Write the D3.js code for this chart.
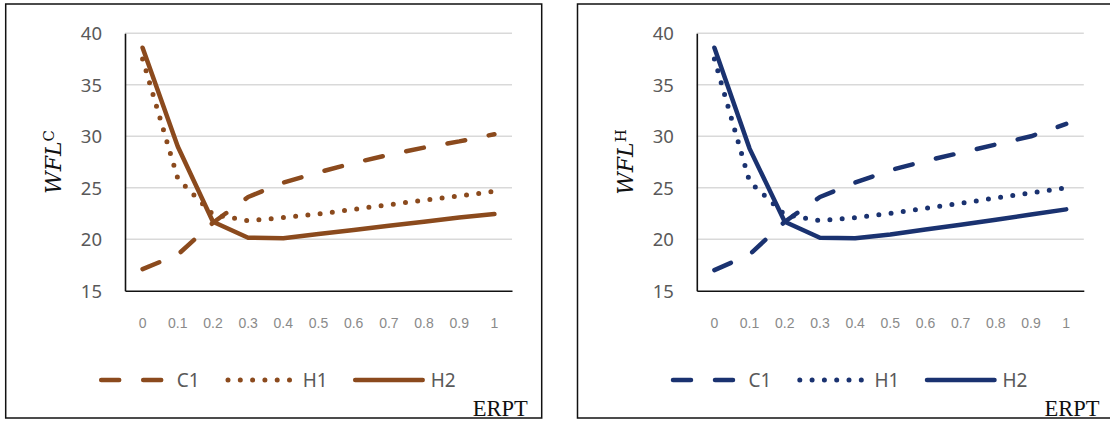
<!DOCTYPE html>
<html>
<head>
  <meta charset="utf-8">
  <title>WFL vs ERPT</title>
  <style>
    body { margin: 0; background: #fff; }
  </style>
</head>
<body>
  <svg id="main" width="1110" height="421"></svg>

  <script src="https://cdn.jsdelivr.net/npm/d3@7.0.1/dist/d3.min.js"></script>
  <script>
    // categories on the x axis
    const erpt = ['0', '0.1', '0.2', '0.3', '0.4', '0.5', '0.6', '0.7', '0.8', '0.9', '1']
    const yTicks = [15, 20, 25, 30, 35, 40]
    const seriesNames = ['C1', 'H1', 'H2']

    // left panel (WFL^C)
    const c1Left = [17.1, 18.5, 21.6, 24.1, 25.5, 26.5, 27.4, 28.2, 28.9, 29.5, 30.2]
    const h1Left = [37.5, 25.9, 22.4, 21.8, 22.1, 22.45, 22.9, 23.35, 23.8, 24.2, 24.65]
    const h2Left = [38.6, 29.0, 21.7, 20.15, 20.1, 20.5, 20.9, 21.3, 21.7, 22.1, 22.45]

    // right panel (WFL^H)
    const c1Right = [17.0, 18.5, 21.7, 24.1, 25.5, 26.7, 27.6, 28.4, 29.2, 30.0, 31.2]
    const h1Right = [37.5, 25.6, 22.4, 21.8, 22.1, 22.5, 23.0, 23.5, 24.0, 24.5, 25.0]
    const h2Right = [38.6, 28.8, 21.7, 20.15, 20.1, 20.45, 20.95, 21.4, 21.9, 22.4, 22.9]

    const svg = d3.select('#main')
    const panelW = 536, panelH = 414
    const margin = { top: 29.3, left: 119.3 }
    const innerWidth = 387
    const innerHeight = 257.4

    const xScale = d3.scaleBand().domain(erpt).range([0, innerWidth])
    const yScale = d3.scaleLinear().domain([15, 40]).range([innerHeight, 0])

    const styles = {
      C1: { dash: '18 24', width: 4.5 },
      H1: { dash: '0 12.3', width: 5 },
      H2: { dash: null, width: 4.5 }
    }

    function drawPanel(px, color, sup, values) {
      const panel = svg.append('g').attr('transform', `translate(${px}, 4)`)

      panel.append('rect')
        .attr('width', panelW).attr('height', panelH)
        .attr('fill', 'none').attr('stroke', '#111').attr('stroke-width', 1.5)

      const g = panel.append('g')
        .attr('transform', `translate(${margin.left}, ${margin.top})`)

      // gridlines
      g.selectAll('.grid').data(yTicks.slice(1))
        .join('line')
        .attr('class', 'grid')
        .attr('x1', 0).attr('x2', innerWidth)
        .attr('y1', d => yScale(d)).attr('y2', d => yScale(d))
        .attr('stroke', '#d9d9d9').attr('stroke-width', 1.5)

      const yAxis = d3.axisLeft(yScale).tickValues(yTicks).tickSize(0).tickPadding(23)
      const yg = g.append('g').call(yAxis)
        .attr('font-family', 'Noto Sans').attr('font-size', 18.5)
      yg.select('.domain').attr('stroke', '#111').attr('stroke-width', 1.6)
      yg.selectAll('.tick text')
        .attr('fill', '#595959').attr('dy', '0.36em')

      const xAxis = d3.axisBottom(xScale).tickSize(0).tickPadding(27)
      const xg = g.append('g').call(xAxis)
        .attr('transform', `translate(0, ${innerHeight})`)
        .attr('font-family', 'Liberation Sans').attr('font-size', 14)
      xg.select('.domain').attr('stroke', '#111').attr('stroke-width', 1.6)
      xg.selectAll('.tick text').attr('fill', '#8a8a8a')

      const line = d3.line()
        .x((d, i) => xScale(erpt[i]) + xScale.bandwidth() / 2)
        .y(d => yScale(d))

      seriesNames.forEach((name, k) => {
        const s = styles[name]
        g.append('path')
          .datum(values[k])
          .attr('d', line)
          .attr('fill', 'none')
          .attr('stroke', color)
          .attr('stroke-width', s.width)
          .attr('stroke-linecap', 'round')
          .attr('stroke-linejoin', 'round')
          .attr('stroke-dasharray', s.dash)
      })

      // y axis title
      const title = panel.append('text')
        .attr('transform', `translate(55, 158) rotate(-90)`)
        .attr('text-anchor', 'middle')
        .attr('font-family', 'DejaVu Serif')
        .attr('fill', '#111')
      title.append('tspan').text('WFL')
        .attr('font-style', 'italic').attr('font-size', 22)
      title.append('tspan').text(sup)
        .attr('font-size', 15).attr('dy', -7)

      // legend
      const legend = [
        { name: 'C1', x1: 95.5, x2: 158.5, tx: 171 },
        { name: 'H1', x1: 222.3, x2: 284, tx: 297 },
        { name: 'H2', x1: 349.5, x2: 417, tx: 425 }
      ]
      legend.forEach(d => {
        const s = styles[d.name]
        panel.append('line')
          .attr('x1', d.x1).attr('x2', d.x2).attr('y1', 376).attr('y2', 376)
          .attr('stroke', color).attr('stroke-width', s.width)
          .attr('stroke-linecap', 'round')
          .attr('stroke-dasharray', s.dash)
        panel.append('text').text(d.name)
          .attr('x', d.tx).attr('y', 376).attr('dy', '0.36em')
          .attr('font-family', 'Noto Sans').attr('font-size', 19)
          .attr('fill', '#595959')
      })

      panel.append('text').text('ERPT')
        .attr('x', 467).attr('y', 412)
        .attr('font-family', 'Liberation Serif').attr('font-size', 22.5)
        .attr('fill', '#111')
    }

    drawPanel(5.7, '#8B4A1D', 'C', [c1Left, h1Left, h2Left])
    drawPanel(577.5, '#1A3270', 'H', [c1Right, h1Right, h2Right])
  </script>
</body>
</html>
